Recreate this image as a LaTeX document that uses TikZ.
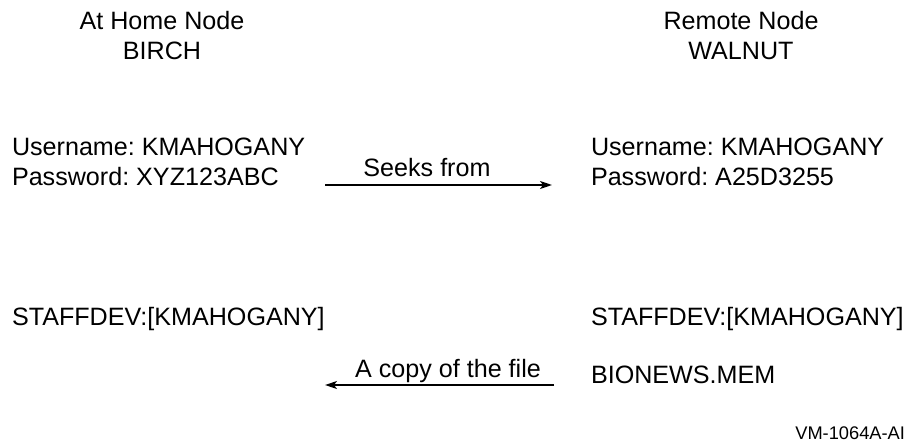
\documentclass[tikz,border=0pt]{standalone}
\usepackage{fontspec}
\setmainfont{Liberation Sans}
\usetikzlibrary{positioning,arrows.meta}
\frenchspacing

\begin{document}
\begin{tikzpicture}[x=0.02cm, y=-0.02cm, every node/.style={inner sep=0pt, outer sep=0pt}]
  \tikzset{
    label/.style={font=\fontsize{14.3}{17}\selectfont, anchor=base},
    entry/.style={label, anchor=base west},
    tag/.style={font=\fontsize{10.4}{12}\selectfont, anchor=base east},
    flow/.style={line width=0.8pt, -{Stealth[length=6.8pt, width=4.5pt, inset=1.7pt]}}
  }
  \useasboundingbox (0,0) rectangle (909,442);

  % node titles
  \node[label] (home) at (162,30) {At Home Node};
  \node[label] (homename) at (162,60) {BIRCH};
  \node[label] (remote) at (741,30) {Remote Node};
  \node[label] (remotename) at (741,60) {WALNUT};

  % accounts
  \node[entry] (homeuser) at (12,156) {Username: KMAHOGANY};
  \node[entry] (homepass) at (12,186) {Password: XYZ123ABC};
  \node[entry] (remoteuser) at (591,156) {Username: KMAHOGANY};
  \node[entry] (remotepass) at (591,186) {Password: A25D3255};

  % directories
  \node[entry] (homedir) at (12,325) {STAFFDEV:[KMAHOGANY]};
  \node[entry] (remotedir) at (591,325) {STAFFDEV:[KMAHOGANY]};
  \node[entry] (remotefile) at (591,383) {BIONEWS.MEM};

  \coordinate (seekstart) at (325,185);
  \coordinate (seekend) at (552,185);
  \coordinate (copystart) at (554,385);
  \coordinate (copyend) at (325,385);

  \draw[flow] (seekstart) -- (seekend);
  \node[label] (seeks) at (427,177) {Seeks from};
  \draw[flow] (copystart) -- (copyend);
  \node[label] (copy) at (448,377) {A copy of the file};

  \node[tag] (figid) at (905,439) {VM-1064A-AI};
\end{tikzpicture}
\end{document}
